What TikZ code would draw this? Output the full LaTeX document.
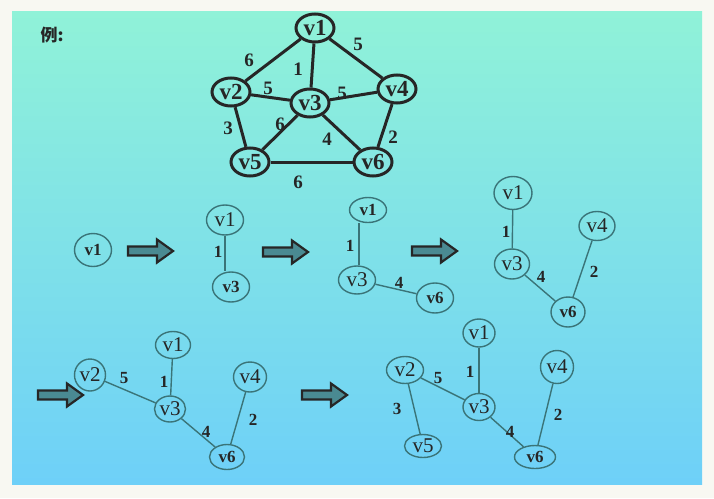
\documentclass[tikz,border=0pt]{standalone}
\usepackage{fontspec}
\setmainfont{Liberation Serif}
\newfontfamily\cjkfont{Noto Sans CJK SC}
\usetikzlibrary{shapes.geometric}
\definecolor{paper}{HTML}{F8F8F2}
\definecolor{topcol}{HTML}{90F2D8}
\definecolor{botcol}{HTML}{6ED0F8}
\definecolor{ink}{HTML}{262626}
\definecolor{ring}{HTML}{3A7478}
\definecolor{arrowfill}{HTML}{4A8A92}
\tikzset{
  sz/.style 2 args={minimum width=#1pt, minimum height=#2pt},
  % full graph
  gnode/.style={ellipse, draw=ink, line width=3pt, inner sep=0pt, text=ink,
    minimum width=38pt, minimum height=28pt,
    font=\bfseries\fontsize{23}{23}\selectfont},
  gedge/.style={draw=ink, line width=3pt},
  gnum/.style={text=ink, inner sep=0pt, font=\bfseries\fontsize{19}{19}\selectfont},
  % spanning-tree steps
  tnode/.style={ellipse, draw=ring, line width=1.4pt, inner sep=0pt, text=ink,
    font=\fontsize{21}{21}\selectfont},
  tbold/.style={tnode, font=\bfseries\fontsize{17}{17}\selectfont},
  tedge/.style={draw=ring, line width=1.4pt},
  tnum/.style={text=ink, inner sep=0pt, font=\bfseries\fontsize{17}{17}\selectfont},
  fatarrow/.pic={
    \draw[draw=ink, fill=arrowfill, line width=2.2pt, line join=miter]
      (0,-4.5) -- (29,-4.5) -- (29,-11.5) -- (45,0) -- (29,11.5) -- (29,4.5)
      -- (0,4.5) -- cycle;
  }
}
\begin{document}
\begin{tikzpicture}[x=1pt,y=-1pt]
\useasboundingbox (0,0) rectangle (714,498);
\fill[paper] (0,0) rectangle (714,498);
\shade[top color=topcol, bottom color=botcol] (12,11) rectangle (702,484);

\node[text=ink, inner sep=0pt, font=\cjkfont\bfseries\fontsize{17}{17}\selectfont] (title) at (52,35) {例:};

% ---- weighted graph ----
\node[gnode] (g1) at (315,28) {v1};
\node[gnode] (g2) at (231,92) {v2};
\node[gnode] (g3) at (310,103) {v3};
\node[gnode] (g4) at (397,89) {v4};
\node[gnode] (g5) at (250,162) {v5};
\node[gnode] (g6) at (373,162) {v6};
\draw[gedge] (g1) -- (g2);
\draw[gedge] (g1) -- (g3);
\draw[gedge] (g1) -- (g4);
\draw[gedge] (g2) -- (g3);
\draw[gedge] (g3) -- (g4);
\draw[gedge] (g2) -- (g5);
\draw[gedge] (g3) -- (g5);
\draw[gedge] (g3) -- (g6);
\draw[gedge] (g4) -- (g6);
\draw[gedge] (g5) -- (g6);
\node[gnum] (w12) at (249,60) {6};
\node[gnum] (w13) at (298,69) {1};
\node[gnum] (w14) at (358,44) {5};
\node[gnum] (w23) at (268,88) {5};
\node[gnum] (w34) at (342,93) {5};
\node[gnum] (w25) at (228,128) {3};
\node[gnum] (w35) at (280,124) {6};
\node[gnum] (w36) at (327,139) {4};
\node[gnum] (w46) at (393,137) {2};
\node[gnum] (w56) at (298,182) {6};

% ---- step 1 ----
\node[tbold, sz={37}{33}] (a1) at (93,250) {v1};
\pic at (128,251) {fatarrow};

% ---- step 2 ----
\node[tnode, sz={37}{30}] (b1) at (225,220) {v1};
\node[tbold, sz={37}{30}] (b3) at (231,287) {v3};
\draw[tedge] (b1.south) -- (b1.south |- b3.north);
\node[tnum] (bw13) at (218,252) {1};
\pic at (263,252) {fatarrow};

% ---- step 3 ----
\node[tbold, sz={37}{25}] (c1) at (368,210) {v1};
\node[tnode, sz={37}{28}] (c3) at (357,280) {v3};
\node[tbold, sz={37}{30}] (c6) at (435,298) {v6};
\draw[tedge] (c3.north) ++(2,0) coordinate (c3top) -- (c3top |- c1.south);
\draw[tedge] (c3) -- (c6);
\node[tnum] (cw13) at (350,246) {1};
\node[tnum] (cw36) at (399,283) {4};
\pic at (412,251) {fatarrow};

% ---- step 4 ----
\node[tnode, sz={38}{33}] (d1) at (513,193) {v1};
\node[tnode, sz={35}{30}] (d3) at (512,264) {v3};
\node[tnode, sz={36}{29}] (d4) at (597,226) {v4};
\node[tbold, sz={34}{30}] (d6) at (568,312) {v6};
\draw[tedge] (d1) -- (d3);
\draw[tedge] (d3) -- (d6);
\draw[tedge] (d4) -- (d6);
\node[tnum] (dw13) at (506,232) {1};
\node[tnum] (dw36) at (541,277) {4};
\node[tnum] (dw46) at (594,272) {2};

% ---- step 5 ----
\pic at (38,395) {fatarrow};
\node[tnode, sz={31}{32}] (e2) at (90,375) {v2};
\node[tnode, sz={35}{27}] (e1) at (173,345) {v1};
\node[tnode, sz={31}{26}] (e3) at (170,409) {v3};
\node[tnode, sz={33}{30}] (e4) at (250,377) {v4};
\node[tbold, sz={35}{25}] (e6) at (227,457) {v6};
\draw[tedge] (e1) -- (e3);
\draw[tedge] (e2) -- (e3);
\draw[tedge] (e3) -- (e6);
\draw[tedge] (e4) -- (e6);
\node[tnum] (ew23) at (124,378) {5};
\node[tnum] (ew13) at (164,382) {1};
\node[tnum] (ew36) at (206,432) {4};
\node[tnum] (ew46) at (253,420) {2};

% ---- step 6 ----
\pic at (302,395) {fatarrow};
\node[tnode, sz={32}{28}] (f1) at (479,333) {v1};
\node[tnode, sz={37}{27}] (f2) at (405,370) {v2};
\node[tnode, sz={32}{27}] (f3) at (479,407) {v3};
\node[tnode, sz={33}{33}] (f4) at (557,367) {v4};
\node[tnode, sz={37}{23}] (f5) at (423,446) {v5};
\node[tbold, sz={41}{23}] (f6) at (535,457) {v6};
\draw[tedge] (f1) -- (f3);
\draw[tedge] (f2) -- (f3);
\draw[tedge] (f2) -- (f5);
\draw[tedge] (f3) -- (f6);
\draw[tedge] (f4) -- (f6);
\node[tnum] (fw23) at (438,378) {5};
\node[tnum] (fw13) at (470,372) {1};
\node[tnum] (fw25) at (397,409) {3};
\node[tnum] (fw36) at (510,432) {4};
\node[tnum] (fw46) at (558,415) {2};
\end{tikzpicture}
\end{document}
